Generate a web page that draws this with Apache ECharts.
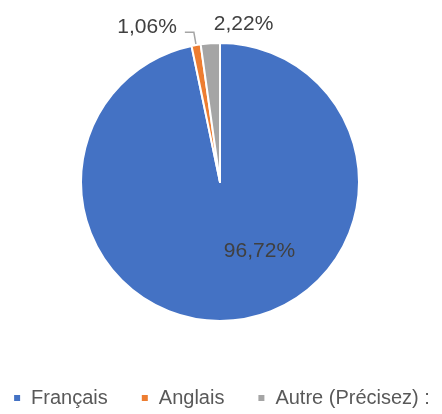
<!DOCTYPE html>
<html>
<head>
<meta charset="utf-8">
<script src="https://cdn.jsdelivr.net/npm/echarts@6/dist/echarts.min.js"></script>
<style>
  html, body { margin: 0; padding: 0; background: #fff; }
  #main { width: 442px; height: 414px; }
</style>
</head>
<body>
<div id="main"></div>
<script>
// données
const categories = ['Français', 'Anglais', 'Autre (Précisez) :'];
const values = [96.72, 1.06, 2.22];
const colors = ['#4472C4', '#ED7D31', '#A5A5A5'];

const FONT = '"Liberation Sans", Arial, sans-serif';

// 96.72 -> "96,72%"
function fmt(v) {
  return v.toFixed(2).replace('.', ',') + '%';
}

const data = categories.map(function (name, i) {
  const item = { name: name, value: values[i], itemStyle: { color: colors[i] } };
  if (i === 0) {
    item.label = { position: 'inside' };
  }
  if (i === 2) {
    item.labelLine = { show: false, length: 0, length2: 0 };
  }
  return item;
});

const myChart = echarts.init(document.getElementById('main'));
myChart.setOption({
  animation: false,
  legend: {
    data: categories,
    bottom: 1,
    left: 'center',
    icon: 'rect',
    itemWidth: 8,
    itemHeight: 8,
    itemGap: 32,
    textStyle: { fontFamily: FONT, fontSize: 20, color: '#595959', padding: [0, 0, 0, 5] }
  },
  series: [{
    type: 'pie',
    center: [220, 182],
    radius: 139,
    startAngle: 90,
    clockwise: true,
    avoidLabelOverlap: false,
    data: data,
    itemStyle: { borderColor: '#fff', borderWidth: 2 },
    label: {
      show: true,
      position: 'outside',
      formatter: function (p) { return fmt(p.value); },
      fontFamily: FONT,
      fontSize: 21,
      color: '#404040'
    },
    labelLine: {
      show: true,
      length: 13,
      length2: 9,
      lineStyle: { color: '#A5A5A5', width: 1.5 }
    },
    labelLayout: function (p) {
      if (p.dataIndex === 0) return { dx: 32, dy: -3 };
      if (p.dataIndex === 1) return { dx: -3, dy: -5 };
      if (p.dataIndex === 2) return { dx: 68, dy: -19 };
      return {};
    }
  }]
});
</script>
</body>
</html>
